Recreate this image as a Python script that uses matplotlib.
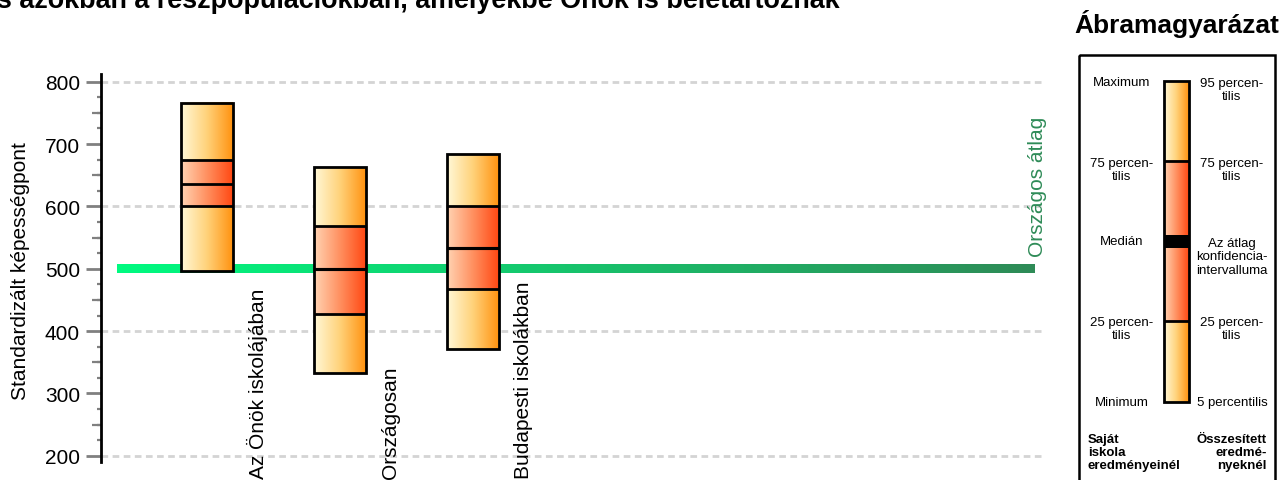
import numpy as np
import matplotlib
matplotlib.use('Agg')
import matplotlib.pyplot as plt
from matplotlib.patches import Rectangle
from matplotlib import transforms
from matplotlib.colors import LinearSegmentedColormap
from matplotlib.ticker import MultipleLocator, NullFormatter

plt.rcParams['font.family'] = ['Liberation Sans', 'DejaVu Sans']

# ---------------- data ----------------
categories = ['Az Önök iskolájában', 'Országosan', 'Budapesti iskolákban']
upper = [766, 663, 684]        # maximum / 95th percentile
q75 = [674, 569, 601]
center = [636, 499, 533]       # median / mean
ci_low = [np.nan, 497.5, 531.5]    # confidence interval of mean
ci_high = [np.nan, 500.5, 534.5]
q25 = [600, 427, 467]
lower = [497, 333, 371]        # minimum / 5th percentile
national_mean = 500
national_label = 'Országos átlag'
yticks = [200, 300, 400, 500, 600, 700, 800]
grid_values = [200, 400, 600, 800]
ylabel = 'Standardizált képességpont'
title = ('Képességeloszlás országosan és azokban a részpopulációkban, '
         'amelyekbe Önök is beletartoznak')

# ---------------- figure ----------------
W, H = 1282, 481
fig = plt.figure(figsize=(W / 100, H / 100), dpi=100)
ax = fig.add_axes([101 / W, 18 / H, 944 / W, 388 / H])

grad = np.linspace(0, 1, 256).reshape(1, -1)
outer_cmap = LinearSegmentedColormap.from_list('outer', ['#FFF8D8', '#FFD27A', '#FF9210'])
inner_cmap = LinearSegmentedColormap.from_list('inner', ['#FFD4B4', '#FF9060', '#FF4812'])
green_cmap = LinearSegmentedColormap.from_list('green', ['#00FA80', '#2E8B57'])


def grad_rect(a, x0, x1, y0, y1, cmap, z):
    a.imshow(grad, cmap=cmap, extent=[x0, x1, y0, y1], aspect='auto',
             interpolation='bilinear', zorder=z)


# grid
for g in grid_values:
    ax.axhline(g, color='#d4d4d4', lw=2.0, ls=(0, (2.4, 1.6)), zorder=0)

# national mean bar (gradient)
half = 7.2
grad_rect(ax, -0.68, 6.215, national_mean - half, national_mean + half, green_cmap, 1)
ax.text(6.245, national_mean + 20, national_label, rotation=90, ha='center',
        va='bottom', fontsize=15, color='#2E8B57', zorder=5)

x = np.arange(len(categories))
bw = 0.39
for i in range(len(categories)):
    xl, xr = x[i] - bw / 2, x[i] + bw / 2
    grad_rect(ax, xl, xr, lower[i], q25[i], outer_cmap, 3)
    grad_rect(ax, xl, xr, q25[i], q75[i], inner_cmap, 3)
    grad_rect(ax, xl, xr, q75[i], upper[i], outer_cmap, 3)
    ax.hlines([q25[i], q75[i]], xl, xr, colors='black', lw=2.0, zorder=4)
    if np.isnan(ci_low[i]):
        ax.hlines(center[i], xl, xr, colors='black', lw=2.0, zorder=4)
    else:
        ax.add_patch(Rectangle((xl, ci_low[i]), bw, ci_high[i] - ci_low[i],
                               facecolor='black', edgecolor='black', lw=0.8, zorder=4))
    ax.add_patch(Rectangle((xl, lower[i]), bw, upper[i] - lower[i], fill=False,
                           edgecolor='black', lw=2.0, zorder=5))

ax.set_xlim(-0.8, 6.298)
ax.set_ylim(190, 812.4)

# category labels (rotated, bottom aligned)
trans = transforms.blended_transform_factory(ax.transData, fig.transFigure)
for i, lab in enumerate(categories):
    ax.text(x[i] + 0.38, 2 / H, lab, rotation=90, ha='center', va='bottom',
            fontsize=15, transform=trans, clip_on=False)

# axes styling
for s in ['top', 'right', 'bottom']:
    ax.spines[s].set_visible(False)
ax.spines['left'].set_linewidth(2.0)
ax.spines['left'].set_color('black')
ax.set_xticks([])
ax.set_yticks(yticks)
ax.set_yticklabels([str(v) for v in yticks])
ax.yaxis.set_minor_locator(MultipleLocator(25))
ax.tick_params(axis='y', which='major', length=10.8, width=2.0, color='#808080',
               labelsize=15, pad=4.3, direction='out')
ax.tick_params(axis='y', which='minor', length=3.0, width=1.6, color='#808080',
               direction='out')
sec = ax.secondary_yaxis('left')
sec.spines['left'].set_visible(False)
sec.set_yticks([250, 350, 450, 550, 650, 750])
sec.yaxis.set_major_formatter(NullFormatter())
sec.tick_params(axis='y', length=6.5, width=1.6, color='#808080', direction='out')

ax.set_ylabel(ylabel, fontsize=15)
ax.yaxis.set_label_coords(-0.075, 0.495)

# title (cropped at top, as in the reference)
fig.text(840 / W, (H - 8) / H, title, ha='right', va='baseline', fontsize=19.4,
         fontweight='bold')

# ---------------- legend panel ----------------
lax = fig.add_axes([0, 0, 1, 1], zorder=10)
lax.patch.set_alpha(0)
lax.axis('off')

fig.text(1177 / W, (H - 33) / H, 'Ábramagyarázat', ha='center', va='baseline',
         fontsize=19, fontweight='bold')
lax.add_patch(Rectangle((1079, 56), 196, 450, fill=False, edgecolor='black',
                        lw=1.8, clip_on=False))

bx0, bx1 = 1164, 1189
grad_rect(lax, bx0, bx1, 162, 82, outer_cmap, 3)
grad_rect(lax, bx0, bx1, 236, 162, inner_cmap, 3)
grad_rect(lax, bx0, bx1, 322, 249, inner_cmap, 3)
grad_rect(lax, bx0, bx1, 403, 322, outer_cmap, 3)
lax.add_patch(Rectangle((bx0, 236), bx1 - bx0, 13, facecolor='black', edgecolor='none', zorder=4))
lax.hlines([162, 322], bx0, bx1, colors='black', lw=2.0, zorder=4)
lax.add_patch(Rectangle((bx0, 82), bx1 - bx0, 321, fill=False, edgecolor='black',
                        lw=2.0, zorder=5))
lax.set_xlim(0, W)
lax.set_ylim(H, 0)

fs = 9.5
lx, rx = 1122, 1232
lax.text(lx, 83, 'Maximum', ha='center', va='center', fontsize=fs)
lax.text(rx, 90.5, '95 percen-\ntilis', ha='center', va='center', fontsize=fs, linespacing=1.15)
lax.text(lx, 170.5, '75 percen-\ntilis', ha='center', va='center', fontsize=fs, linespacing=1.15)
lax.text(rx, 170.5, '75 percen-\ntilis', ha='center', va='center', fontsize=fs, linespacing=1.15)
lax.text(lx, 242, 'Medián', ha='center', va='center', fontsize=fs)
lax.text(rx, 257.5, 'Az átlag\nkonfidencia-\nintervalluma', ha='center', va='center',
         fontsize=fs, linespacing=1.15)
lax.text(lx, 329.5, '25 percen-\ntilis', ha='center', va='center', fontsize=fs, linespacing=1.15)
lax.text(rx, 329.5, '25 percen-\ntilis', ha='center', va='center', fontsize=fs, linespacing=1.15)
lax.text(lx, 403, 'Minimum', ha='center', va='center', fontsize=fs)
lax.text(rx, 403, '5 percentilis', ha='center', va='center', fontsize=fs)
lax.text(1088, 453, 'Saját\niskola\neredményeinél', ha='left', va='center',
         fontsize=fs, fontweight='bold', linespacing=1.15, multialignment='left')
lax.text(1267, 453, 'Összesített\neredmé-\nnyeknél', ha='right', va='center',
         fontsize=fs, fontweight='bold', linespacing=1.15, multialignment='right')

fig.savefig('out.png', dpi=100)
